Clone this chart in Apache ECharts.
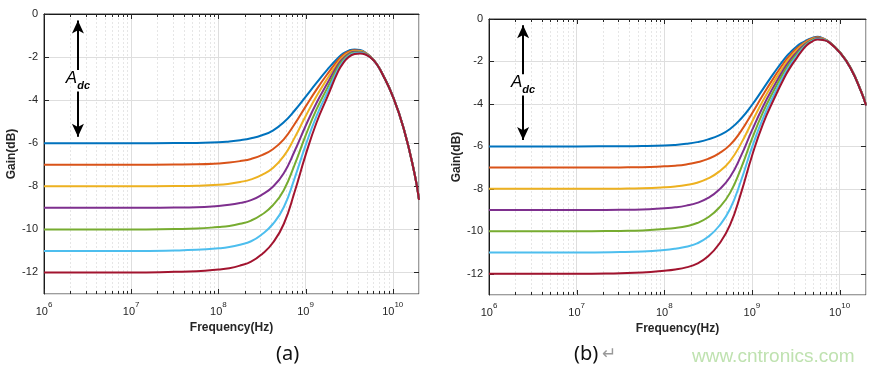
<!DOCTYPE html>
<html><head><meta charset="utf-8">
<script src="https://cdn.jsdelivr.net/npm/echarts@6/dist/echarts.min.js"></script>
<style>html,body{margin:0;padding:0;background:#fff}#c{width:876px;height:373px}</style>
</head><body><div id="c"></div>
<script>
// ---------------- data ----------------
const freqHz = [1e6, 1e7, 3.162e7, 5.623e7, 1e8, 1.334e8, 1.778e8, 2.371e8, 3.162e8, 4.217e8, 5.623e8, 7.499e8,
                1e9, 1.334e9, 1.778e9, 2.371e9, 2.738e9, 3.162e9, 3.652e9, 4.217e9, 4.870e9, 5.623e9, 6.494e9, 7.499e9,
                1e10, 1.334e10, 1.778e10, 2e10];
const adcNames = ['-6 dB', '-7 dB', '-8 dB', '-9 dB', '-10 dB', '-11 dB', '-12 dB'];
const lineColors = ['#0072BD', '#D95319', '#EDB120', '#7E2F8E', '#77AC30', '#4DBEEE', '#A2142F'];

// chart (a)
const gainA_6  = [-6,-6,-5.995,-5.985,-5.96,-5.92,-5.86,-5.77,-5.63,-5.41,-5.03,-4.48,-3.85,-3.20,-2.58,-2.03,-1.82,-1.69,-1.645,-1.67,-1.79,-2.00,-2.30,-2.72,-3.80,-5.30,-7.40,-8.60];
const gainA_7  = [-7,-7,-6.99,-6.98,-6.94,-6.90,-6.83,-6.73,-6.55,-6.28,-5.82,-5.11,-4.30,-3.51,-2.79,-2.13,-1.89,-1.74,-1.68,-1.70,-1.81,-2.01,-2.30,-2.72,-3.81,-5.31,-7.41,-8.61];
const gainA_8  = [-8,-8,-7.99,-7.975,-7.93,-7.88,-7.80,-7.68,-7.47,-7.15,-6.60,-5.74,-4.75,-3.82,-3.00,-2.24,-1.96,-1.79,-1.72,-1.72,-1.82,-2.01,-2.30,-2.73,-3.81,-5.31,-7.41,-8.61];
const gainA_9  = [-9,-9,-8.985,-8.97,-8.91,-8.86,-8.77,-8.64,-8.39,-8.02,-7.39,-6.36,-5.20,-4.13,-3.22,-2.34,-2.04,-1.84,-1.75,-1.75,-1.84,-2.02,-2.31,-2.73,-3.81,-5.31,-7.41,-8.61];
const gainA_10 = [-10,-10,-9.98,-9.96,-9.89,-9.84,-9.74,-9.59,-9.31,-8.88,-8.18,-6.99,-5.65,-4.43,-3.43,-2.44,-2.11,-1.88,-1.79,-1.78,-1.85,-2.03,-2.31,-2.74,-3.82,-5.32,-7.41,-8.62];
const gainA_11 = [-11,-11,-10.98,-10.95,-10.88,-10.82,-10.71,-10.55,-10.23,-9.75,-8.97,-7.62,-6.10,-4.74,-3.64,-2.55,-2.18,-1.93,-1.82,-1.80,-1.87,-2.03,-2.31,-2.74,-3.82,-5.32,-7.42,-8.62];
const gainA_12 = [-12,-12,-11.97,-11.94,-11.86,-11.80,-11.68,-11.50,-11.15,-10.62,-9.75,-8.25,-6.55,-5.05,-3.85,-2.65,-2.25,-1.98,-1.86,-1.83,-1.88,-2.04,-2.31,-2.74,-3.82,-5.32,-7.42,-8.63];

// chart (b)
const gainB_6  = [-6,-6,-5.995,-5.985,-5.96,-5.93,-5.88,-5.80,-5.67,-5.48,-5.18,-4.70,-4.05,-3.30,-2.55,-1.85,-1.57,-1.33,-1.14,-1.00,-0.89,-0.84,-0.92,-1.06,-1.55,-2.30,-3.45,-4.05];
const gainB_7  = [-7,-7,-6.99,-6.98,-6.94,-6.91,-6.85,-6.75,-6.59,-6.33,-5.93,-5.28,-4.45,-3.58,-2.76,-2.00,-1.69,-1.43,-1.21,-1.04,-0.92,-0.86,-0.93,-1.06,-1.55,-2.30,-3.45,-4.05];
const gainB_8  = [-8,-8,-7.99,-7.975,-7.93,-7.89,-7.82,-7.71,-7.51,-7.19,-6.69,-5.87,-4.85,-3.85,-2.96,-2.14,-1.81,-1.52,-1.27,-1.08,-0.95,-0.88,-0.94,-1.07,-1.56,-2.31,-3.46,-4.06];
const gainB_9  = [-9,-9,-8.985,-8.97,-8.91,-8.87,-8.79,-8.66,-8.43,-8.04,-7.44,-6.45,-5.25,-4.13,-3.17,-2.29,-1.93,-1.62,-1.34,-1.12,-0.98,-0.90,-0.96,-1.07,-1.56,-2.31,-3.46,-4.06];
const gainB_10 = [-10,-10,-9.98,-9.96,-9.89,-9.84,-9.76,-9.61,-9.34,-8.89,-8.19,-7.03,-5.65,-4.40,-3.37,-2.43,-2.04,-1.71,-1.41,-1.16,-1.00,-0.92,-0.97,-1.08,-1.56,-2.31,-3.46,-4.06];
const gainB_11 = [-11,-11,-10.98,-10.95,-10.88,-10.82,-10.73,-10.57,-10.26,-9.75,-8.95,-7.62,-6.05,-4.68,-3.58,-2.58,-2.16,-1.81,-1.47,-1.20,-1.03,-0.94,-0.98,-1.08,-1.57,-2.32,-3.47,-4.07];
const gainB_12 = [-12,-12,-11.97,-11.94,-11.86,-11.80,-11.70,-11.52,-11.18,-10.60,-9.70,-8.20,-6.45,-4.95,-3.78,-2.72,-2.28,-1.90,-1.54,-1.24,-1.06,-0.96,-0.99,-1.09,-1.57,-2.32,-3.47,-4.07];

const xMajorExponents = [6, 7, 8, 9, 10];
const xMinorMultipliers = [2, 3, 4, 5, 6, 7, 8, 9];
const yTickValues = [0, -2, -4, -6, -8, -10, -12];
const xMin = 1e6, xMax = 2e10, yMin = -13, yMax = 0;
const adcArrowFreq = 2.45e6;
const captions = ['(a)', '(b)'];

// ---------------- build ----------------
const FONT = '"Liberation Sans", Arial, sans-serif';
const gridBoxes = [
  {left: 44, top: 14, width: 375, height: 280},
  {left: 489, top: 19, width: 377, height: 276}
];
const chartGains = [
  [gainA_6, gainA_7, gainA_8, gainA_9, gainA_10, gainA_11, gainA_12],
  [gainB_6, gainB_7, gainB_8, gainB_9, gainB_10, gainB_11, gainB_12]
];

const xTickItems = [];
xMajorExponents.forEach(e => {
  xTickItems.push([Math.pow(10, e), 1]);
  xMinorMultipliers.forEach(m => {
    const f = m * Math.pow(10, e);
    if (f < xMax) xTickItems.push([f, 0]);
  });
});

function xLabelFmt(v) {
  const e = Math.log10(v);
  const r = Math.round(e);
  if (Math.abs(e - r) < 1e-6 && xMajorExponents.indexOf(r) >= 0) return '{b|10}{s|' + r + '}';
  return '';
}

const grids = [], xAxes = [], yAxes = [], series = [];
gridBoxes.forEach((g, gi) => {
  grids.push(Object.assign({show: true, borderColor: '#3a3a3a', borderWidth: 1, containLabel: false}, g));
  xAxes.push({
    type: 'log', logBase: 10, gridIndex: gi, min: xMin, max: xMax,
    name: 'Frequency(Hz)', nameLocation: 'middle', nameGap: 22,
    nameTextStyle: {fontFamily: FONT, fontSize: 12, fontWeight: 'bold', color: '#262626'},
    axisLine: {show: true, lineStyle: {color: '#1a1a1a', width: 1}},
    axisTick: {show: false},
    splitLine: {show: true, lineStyle: {color: '#dedede', width: 1}},
    minorTick: {show: false}, minorSplitLine: {show: false},
    axisLabel: {
      formatter: xLabelFmt, margin: 7, color: '#262626', fontFamily: FONT,
      rich: {
        b: {fontSize: 11, fontFamily: FONT, color: '#262626', lineHeight: 16, verticalAlign: 'bottom'},
        s: {fontSize: 8, fontFamily: FONT, color: '#262626', lineHeight: 16, verticalAlign: 'top'}
      }
    }
  });
  yAxes.push({
    type: 'value', gridIndex: gi, min: yMin, max: yMax, splitNumber: 6,
    name: 'Gain(dB)', nameLocation: 'middle', nameGap: 26,
    nameTextStyle: {fontFamily: FONT, fontSize: 12, fontWeight: 'bold', color: '#262626'},
    axisLine: {show: true, lineStyle: {color: '#1a1a1a', width: 1}},
    axisTick: {show: false},
    splitLine: {show: true, lineStyle: {color: '#dedede', width: 1}},
    axisLabel: {
      fontFamily: FONT, fontSize: 11, color: '#262626', margin: 6,
      formatter: v => (yTickValues.indexOf(v) >= 0 ? String(v) : '')
    }
  });

  // minor grid + x ticks
  series.push({
    type: 'custom', xAxisIndex: gi, yAxisIndex: gi, silent: true, z: 1,
    data: xTickItems,
    renderItem: function (params, api) {
      const f = api.value(0), major = api.value(1) === 1;
      const t = api.coord([f, yMax]), b = api.coord([f, yMin]);
      const x = Math.round(t[0]) + 0.5;
      const len = major ? 5 : 3;
      const ch = [];
      if (!major) ch.push({type: 'line', shape: {x1: x, y1: t[1], x2: x, y2: b[1]},
        style: {stroke: '#e6e6e6', lineWidth: 1, lineDash: [2, 2]}});
      ch.push({type: 'line', shape: {x1: x, y1: b[1], x2: x, y2: b[1] - len}, style: {stroke: '#262626', lineWidth: 1}});
      ch.push({type: 'line', shape: {x1: x, y1: t[1], x2: x, y2: t[1] + len}, style: {stroke: '#262626', lineWidth: 1}});
      return {type: 'group', children: ch};
    }
  });
  // y ticks
  series.push({
    type: 'custom', xAxisIndex: gi, yAxisIndex: gi, silent: true, z: 1,
    data: yTickValues.map(v => [xMin, v]),
    renderItem: function (params, api) {
      const v = api.value(1);
      const l = api.coord([xMin, v]), r = api.coord([xMax, v]);
      const y = Math.round(l[1]) + 0.5;
      return {type: 'group', children: [
        {type: 'line', shape: {x1: l[0], y1: y, x2: l[0] + 5, y2: y}, style: {stroke: '#262626', lineWidth: 1}},
        {type: 'line', shape: {x1: r[0], y1: y, x2: r[0] - 5, y2: y}, style: {stroke: '#262626', lineWidth: 1}}
      ]};
    }
  });

  chartGains[gi].forEach((vals, si) => {
    const s = {
      type: 'line', name: adcNames[si], xAxisIndex: gi, yAxisIndex: gi,
      data: freqHz.map((f, i) => [f, vals[i]]),
      smooth: 0.5, showSymbol: false, symbol: 'none',
      lineStyle: {width: 2, color: lineColors[si]}, itemStyle: {color: lineColors[si]},
      z: 3 + si, animation: false
    };
    if (si === 0) {
      s.markLine = {
        silent: true, animation: false, label: {show: false},
        lineStyle: {color: '#000', width: 2, type: 'solid'},
        symbolSize: [9, 13],
        data: [
          [{coord: [adcArrowFreq, -0.3], symbol: 'arrow'}, {coord: [adcArrowFreq, -2.6], symbol: 'none'}],
          [{coord: [adcArrowFreq, -3.6], symbol: 'none'}, {coord: [adcArrowFreq, -5.7], symbol: 'arrow'}]
        ]
      };
      s.markPoint = {
        silent: true, animation: false,
        data: [{
          coord: [adcArrowFreq, -3.1], symbol: 'rect', symbolSize: 0,
          label: {
            show: true, position: 'inside', formatter: '{a|A}{d|dc}',
            rich: {
              a: {fontFamily: FONT, fontSize: 17, fontStyle: 'italic', color: '#000', verticalAlign: 'top', lineHeight: 22},
              d: {fontFamily: FONT, fontSize: 11, fontStyle: 'italic', fontWeight: 'bold', color: '#000', verticalAlign: 'bottom', lineHeight: 22}
            }
          }
        }]
      };
    }
    series.push(s);
  });
});

const chart = echarts.init(document.getElementById('c'), null, {renderer: 'canvas'});
chart.setOption({
  animation: false,
  backgroundColor: '#fff',
  grid: grids, xAxis: xAxes, yAxis: yAxes, series: series,
  graphic: [
    {type: 'text', left: 276, top: 344, style: {text: captions[0], font: '20px "Noto Sans", sans-serif', fill: '#111'}},
    {type: 'text', left: 574, top: 344, style: {text: captions[1], font: '20px "Noto Sans", sans-serif', fill: '#111'}},
    {type: 'text', left: 602, top: 346, style: {text: '\u21B5', font: '17px "DejaVu Sans", sans-serif', fill: '#999'}},
    {type: 'text', left: 692, top: 347, style: {text: 'www.cntronics.com', font: '19px "Liberation Sans Narrow", "Liberation Sans", sans-serif', fill: '#bfe2b0'}}
  ]
});
</script></body></html>
